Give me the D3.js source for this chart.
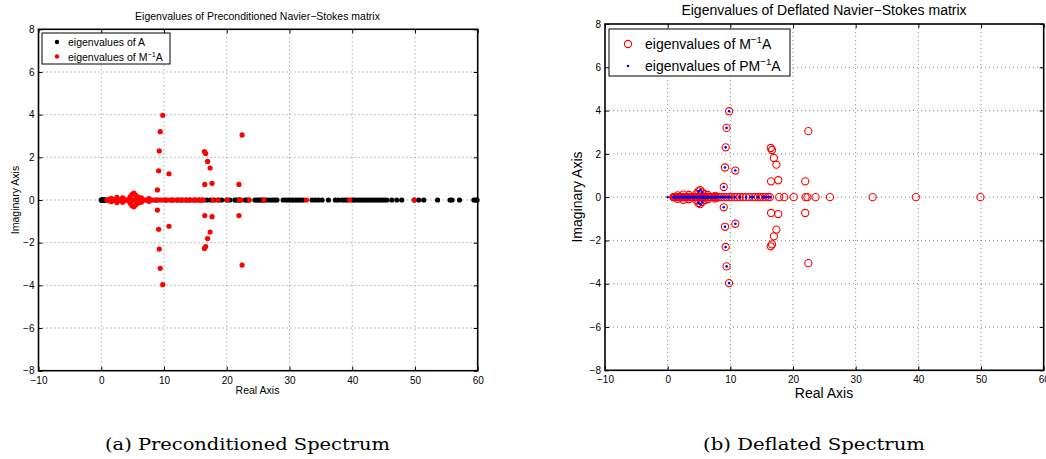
<!DOCTYPE html>
<meta charset="utf-8">
<style>
body{margin:0;background:#fff;}
text{font-family:"Liberation Sans",Arial,sans-serif;fill:#000;}
.cap{font-family:"DejaVu Serif","Liberation Serif",serif;}
</style>
<svg id="fig" width="1046" height="459"></svg>
<script src="https://cdn.jsdelivr.net/npm/d3@7"></script>
<script>
// axis ticks
var xTicks = [-10, 0, 10, 20, 30, 40, 50, 60];
var yTicks = [-8, -6, -4, -2, 0, 2, 4, 6, 8];

// eigenvalues of A (all real)
var eigA = [0, 0.05, 0.1, 0.15, 0.2, 0.25, 0.3, 0.35, 0.4, 0.5, 0.6, 0.8, 1.2, 2.0, 3.1, 4.3, 6.2, 7.6, 8.8,
  10.3, 11.3, 12.2, 12.8, 13.5, 14.1, 14.9, 15.6, 16.1, 16.8, 17.4, 18.0, 18.7, 19.2, 20.0, 20.5,
  21.3, 21.6, 21.9, 22.1, 22.9, 23.2, 23.5, 24.5, 24.8, 25.1, 25.4, 25.7, 26.0, 26.4, 26.9, 27.3,
  27.7, 28.0, 29.0, 29.4, 29.8, 30.2, 30.6, 31.0, 31.4, 31.8, 32.2, 33.6, 34.1, 34.6, 35.2, 36.2,
  37.3, 37.8, 38.4, 38.8, 39.2, 40.0, 40.3, 40.7, 41.1, 41.5, 41.9, 42.3, 42.7, 43.1, 43.5, 43.9,
  44.3, 44.7, 45.1, 45.5, 46.3, 47.1, 47.9, 49.9, 50.6, 51.4, 53.6, 55.6, 55.9, 57.1, 59.4, 59.7, 59.9];

// eigenvalues of M^-1 A : those on the real axis
var precondReal = [0.9, 1.0, 1.1, 1.2, 1.35, 1.5, 1.65, 1.8, 1.95, 2.1, 2.3, 2.5, 2.7, 2.9, 3.1, 3.3, 3.5,
  3.7, 3.9, 4.1, 4.3, 4.5, 4.7, 4.9, 5.1, 5.3, 5.5, 5.7, 5.9, 6.1, 6.4, 6.7, 7.0, 7.3, 7.6, 7.9, 8.2,
  8.6, 9.0, 9.4, 9.8, 10.2, 10.7, 11.1, 11.5, 12.0, 12.5, 13.0, 13.6, 14.0, 14.4, 14.8, 15.2, 15.6,
  16.0, 16.3, 17.8, 18.6, 20.1, 22.0, 22.3, 23.6, 25.9, 32.7, 39.6, 49.9];

// eigenvalues of M^-1 A : complex ones [re, im]
var precondComplex = [[1.6, 0.08], [1.6, -0.08], [2.5, 0.12], [2.5, -0.12], [3.4, 0.1], [3.4, -0.1],
  [4.6, 0.15], [4.6, -0.15], [4.9, 0.27], [4.9, -0.27], [5.2, 0.32], [5.2, -0.32], [5.5, 0.22],
  [5.5, -0.22], [5.9, 0.14], [5.9, -0.14], [6.4, 0.1], [6.4, -0.1], [7.6, 0.06], [7.6, -0.06],
  [9.8, 3.97], [9.8, -3.97], [9.4, 3.2], [9.4, -3.2], [9.25, 2.3], [9.25, -2.3], [9.15, 1.37],
  [9.15, -1.37], [10.8, 1.23], [10.8, -1.23], [8.95, 0.47], [8.95, -0.47], [16.45, 2.27],
  [16.45, -2.27], [16.65, 2.18], [16.65, -2.18], [16.95, 1.81], [16.95, -1.81], [17.35, 1.5],
  [17.35, -1.5], [16.5, 0.73], [16.5, -0.73], [17.65, 0.78], [17.65, -0.78], [22.45, 3.05],
  [22.45, -3.05], [21.95, 0.73], [21.95, -0.73]];

// eigenvalues of P M^-1 A
var deflatedReal = [0, 0.95, 1.05, 1.15, 1.25, 1.4, 1.55, 1.7, 1.85, 2.0, 2.15, 2.3, 2.45, 2.6, 2.75,
  2.9, 3.05, 3.2, 3.35, 3.5, 3.65, 3.8, 3.95, 4.1, 4.25, 4.4, 4.55, 4.7, 4.85, 5.0, 5.15, 5.3, 5.45,
  5.6, 5.75, 5.9, 6.05, 6.2, 6.4, 6.6, 6.8, 7.0, 7.2, 7.4, 7.6, 7.8, 8.0, 8.3, 8.6, 8.9, 9.2, 9.5,
  9.8, 10.0, 10.7, 11.5, 12.5, 13.3, 13.6, 14.4, 15.2, 15.6, 16.0, 16.3];
var deflatedComplex = [[4.9, 0.27], [4.9, -0.27], [5.2, 0.32], [5.2, -0.32], [5.5, 0.22], [5.5, -0.22],
  [9.8, 3.97], [9.8, -3.97], [9.4, 3.2], [9.4, -3.2], [9.25, 2.3], [9.25, -2.3], [9.15, 1.37],
  [9.15, -1.37], [10.8, 1.23], [10.8, -1.23], [8.95, 0.47], [8.95, -0.47]];

var svg = d3.select("#fig");
svg.append("rect").attr("width", 1046).attr("height", 459).attr("fill", "#fff");

function panel(box, tickFs) {
  var x = d3.scaleLinear().domain([-10, 60]).range([box.x0, box.x1]);
  var y = d3.scaleLinear().domain([-8, 8]).range([box.y1, box.y0]);
  var g = svg.append("g");

  // dotted grid
  g.selectAll(".gx").data(xTicks.slice(1, -1)).enter().append("line")
    .attr("x1", d => x(d)).attr("x2", d => x(d)).attr("y1", box.y0).attr("y2", box.y1)
    .attr("stroke", "#888").attr("stroke-width", 1).attr("stroke-dasharray", "1,3");
  g.selectAll(".gy").data(yTicks.slice(1, -1)).enter().append("line")
    .attr("y1", d => y(d)).attr("y2", d => y(d)).attr("x1", box.x0).attr("x2", box.x1)
    .attr("stroke", "#888").attr("stroke-width", 1).attr("stroke-dasharray", "1,3");

  var ax = [
    d3.axisBottom(x).tickValues(xTicks).tickSize(-4).tickPadding(6),
    d3.axisTop(x).tickValues(xTicks).tickSize(-4).tickFormat(""),
    d3.axisLeft(y).tickValues(yTicks).tickSize(-4).tickPadding(4),
    d3.axisRight(y).tickValues(yTicks).tickSize(-4).tickFormat("")
  ];
  var tr = ["translate(0," + box.y1 + ")", "translate(0," + box.y0 + ")",
            "translate(" + box.x0 + ",0)", "translate(" + box.x1 + ",0)"];
  ax.forEach(function(a, i) {
    var ga = g.append("g").attr("transform", tr[i]).call(a);
    ga.select(".domain").remove();
    ga.selectAll(".tick line").attr("stroke", "#000").attr("stroke-width", 1);
    ga.selectAll("text").attr("font-size", tickFs).attr("font-family", "Liberation Sans, Arial, sans-serif");
  });
  g.append("rect").attr("x", box.x0).attr("y", box.y0)
    .attr("width", box.x1 - box.x0).attr("height", box.y1 - box.y0)
    .attr("fill", "none").attr("stroke", "#000").attr("stroke-width", 1.6);
  return {g: g, x: x, y: y};
}

function supLabel(sel, pre, post, fs) {
  var up = Math.round(fs * 0.42);
  sel.append("tspan").text(pre);
  sel.append("tspan").attr("dy", -up).attr("font-size", fs * 0.7).text("\u22121");
  sel.append("tspan").attr("dy", up).text(post);
}

// ---- left panel
var L = panel({x0: 38.5, x1: 477.7, y0: 29.3, y1: 370.7}, 10);
var pts = L.g.append("g");
pts.selectAll(".a").data(eigA).enter().append("circle")
  .attr("cx", d => L.x(d)).attr("cy", L.y(0)).attr("r", 2.6).attr("fill", "#000");
pts.selectAll(".r").data(precondReal).enter().append("circle")
  .attr("cx", d => L.x(d)).attr("cy", L.y(0)).attr("r", 2.6).attr("fill", "#ff0000");
pts.selectAll(".c").data(precondComplex).enter().append("circle")
  .attr("cx", d => L.x(d[0])).attr("cy", d => L.y(d[1])).attr("r", 2.6).attr("fill", "#ff0000");

svg.append("text").attr("x", 257.5).attr("y", 19.5).attr("text-anchor", "middle")
  .attr("font-size", 10.5).text("Eigenvalues of Preconditioned Navier\u2212Stokes matrix");
svg.append("text").attr("x", 257.5).attr("y", 394).attr("text-anchor", "middle")
  .attr("font-size", 10.5).text("Real Axis");
svg.append("text").attr("transform", "translate(19,200) rotate(-90)").attr("text-anchor", "middle")
  .attr("font-size", 10.5).text("Imaginary Axis");

var lg = svg.append("g");
lg.append("rect").attr("x", 42).attr("y", 33).attr("width", 128).attr("height", 31)
  .attr("fill", "#fff").attr("stroke", "#000").attr("stroke-width", 1);
lg.append("circle").attr("cx", 57).attr("cy", 42).attr("r", 2.2).attr("fill", "#000");
lg.append("circle").attr("cx", 57).attr("cy", 56.5).attr("r", 2.2).attr("fill", "#ff0000");
lg.append("text").attr("x", 68).attr("y", 45.5).attr("font-size", 10.5).text("eigenvalues of A");
supLabel(lg.append("text").attr("x", 68).attr("y", 60.5).attr("font-size", 10.5), "eigenvalues of M", "A", 10.5);

svg.append("text").attr("class", "cap").attr("x", 247.5).attr("y", 450).attr("text-anchor", "middle")
  .attr("font-size", 17.5).attr("textLength", 285).attr("lengthAdjust", "spacingAndGlyphs")
  .text("(a) Preconditioned Spectrum");

// ---- right panel
var R = panel({x0: 605, x1: 1043.7, y0: 24, y1: 370.3}, 10);
var pr = R.g.append("g");
pr.selectAll(".r").data(precondReal).enter().append("circle")
  .attr("cx", d => R.x(d)).attr("cy", R.y(0)).attr("r", 3.6)
  .attr("fill", "none").attr("stroke", "#ff0000").attr("stroke-width", 1.1);
pr.selectAll(".c").data(precondComplex).enter().append("circle")
  .attr("cx", d => R.x(d[0])).attr("cy", d => R.y(d[1])).attr("r", 3.6)
  .attr("fill", "none").attr("stroke", "#ff0000").attr("stroke-width", 1.1);
pr.selectAll(".b").data(deflatedReal).enter().append("circle")
  .attr("cx", d => R.x(d)).attr("cy", R.y(0)).attr("r", 1.3).attr("fill", "#0000ff");
pr.selectAll(".bc").data(deflatedComplex).enter().append("circle")
  .attr("cx", d => R.x(d[0])).attr("cy", d => R.y(d[1])).attr("r", 1.3).attr("fill", "#0000ff");

svg.append("text").attr("x", 824).attr("y", 15).attr("text-anchor", "middle")
  .attr("font-size", 14).text("Eigenvalues of Deflated Navier\u2212Stokes matrix");
svg.append("text").attr("x", 824).attr("y", 398).attr("text-anchor", "middle")
  .attr("font-size", 14).text("Real Axis");
svg.append("text").attr("transform", "translate(582,197) rotate(-90)").attr("text-anchor", "middle")
  .attr("font-size", 14).text("Imaginary Axis");

var rg = svg.append("g");
rg.append("rect").attr("x", 609).attr("y", 29).attr("width", 181).attr("height", 47)
  .attr("fill", "#fff").attr("stroke", "#000").attr("stroke-width", 1);
rg.append("circle").attr("cx", 628).attr("cy", 44).attr("r", 3.6)
  .attr("fill", "none").attr("stroke", "#ff0000").attr("stroke-width", 1.1);
rg.append("circle").attr("cx", 628).attr("cy", 66).attr("r", 1.3).attr("fill", "#0000ff");
supLabel(rg.append("text").attr("x", 645).attr("y", 49).attr("font-size", 14), "eigenvalues of M", "A", 14);
supLabel(rg.append("text").attr("x", 645).attr("y", 71).attr("font-size", 14), "eigenvalues of PM", "A", 14);

svg.append("text").attr("class", "cap").attr("x", 814).attr("y", 450).attr("text-anchor", "middle")
  .attr("font-size", 17.5).attr("textLength", 222).attr("lengthAdjust", "spacingAndGlyphs")
  .text("(b) Deflated Spectrum");
</script>
